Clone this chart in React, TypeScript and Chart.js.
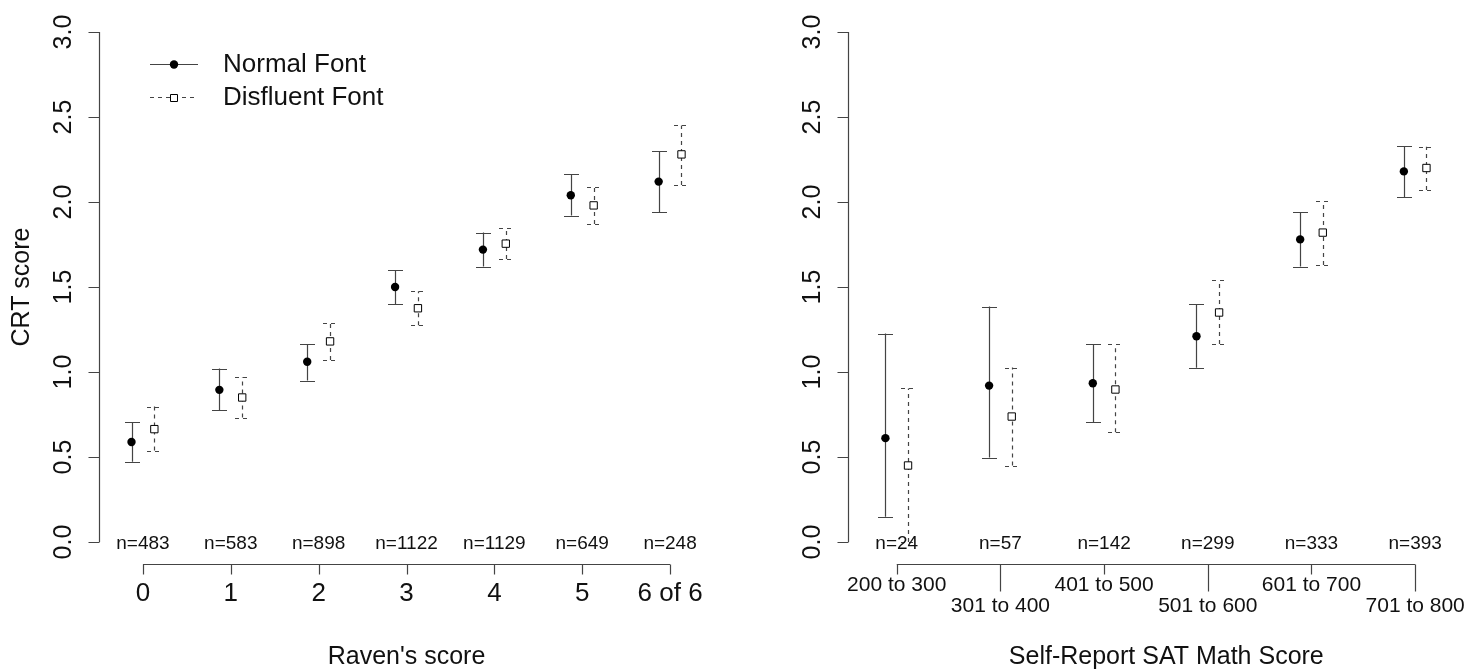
import React, { useEffect, useRef } from "react";
import { Chart, registerables } from "chart.js";
Chart.register(...registerables);

// ---------- data ----------
const ravenCategories = ["0", "1", "2", "3", "4", "5", "6 of 6"];
const ravenCounts = ["n=483", "n=583", "n=898", "n=1122", "n=1129", "n=649", "n=248"];
const ravenNormalMean = [0.588, 0.895, 1.06, 1.5, 1.72, 2.04, 2.12];
const ravenNormalLow = [0.472, 0.777, 0.95, 1.4, 1.62, 1.92, 1.94];
const ravenNormalHigh = [0.705, 1.02, 1.165, 1.6, 1.82, 2.165, 2.3];
const ravenDisfluentMean = [0.664, 0.85, 1.18, 1.375, 1.755, 1.98, 2.28];
const ravenDisfluentLow = [0.538, 0.732, 1.07, 1.275, 1.665, 1.87, 2.1];
const ravenDisfluentHigh = [0.797, 0.97, 1.29, 1.475, 1.845, 2.09, 2.45];

const satCategories = ["200 to 300", "301 to 400", "401 to 500", "501 to 600", "601 to 700", "701 to 800"];
const satCounts = ["n=24", "n=57", "n=142", "n=299", "n=333", "n=393"];
const satNormalMean = [0.611, 0.92, 0.934, 1.21, 1.78, 2.18];
const satNormalLow = [0.149, 0.497, 0.703, 1.025, 1.62, 2.03];
const satNormalHigh = [1.226, 1.385, 1.165, 1.4, 1.94, 2.33];
const satDisfluentMean = [0.45, 0.738, 0.897, 1.35, 1.82, 2.2];
const satDisfluentLow = [0.0, 0.45, 0.646, 1.165, 1.63, 2.07];
const satDisfluentHigh = [0.903, 1.026, 1.163, 1.54, 2.005, 2.325];

const yTickValues = [0, 0.5, 1, 1.5, 2, 2.5, 3];
const yTickLabels = ["0.0", "0.5", "1.0", "1.5", "2.0", "2.5", "3.0"];
const seriesLabels = ["Normal Font", "Disfluent Font"];
const ravenTitle = "Raven's score";
const satTitle = "Self-Report SAT Math Score";
const yTitle = "CRT score";

const FONT = '"Liberation Sans", Arial, Helvetica, sans-serif';
const LINE = "#444";
const TEXT = "#111";

type PanelCfg = {
  categories: string[];
  counts: string[];
  nMean: number[];
  nLow: number[];
  nHigh: number[];
  dMean: number[];
  dLow: number[];
  dHigh: number[];
  offset: number;
  xMin: number;
  xMax: number;
  padding: { left: number; right: number; top: number; bottom: number };
  xTitle: string;
  xTitleCenter: number; // in category units
  showYTitle: boolean;
  showLegend: boolean;
  staggered: boolean;
  tickFont: number;
};

function makePlugin(cfg: PanelCfg) {
  return {
    id: "rstyle",
    beforeDatasetsDraw(chart: any) {
      const ctx = chart.ctx;
      const xs = chart.scales.x;
      const ys = chart.scales.y;
      const cap = 7.5;
      const drawBar = (xv: number, lo: number, hi: number, dashed: boolean) => {
        const x = Math.round(xs.getPixelForValue(xv)) + 0.5;
        const y1 = ys.getPixelForValue(lo);
        const y2 = ys.getPixelForValue(hi);
        ctx.save();
        ctx.strokeStyle = LINE;
        ctx.lineWidth = 1.2;
        ctx.setLineDash(dashed ? [4, 4] : []);
        ctx.beginPath();
        ctx.moveTo(x, y1);
        ctx.lineTo(x, y2);
        ctx.moveTo(x - cap, Math.round(y1) + 0.5);
        ctx.lineTo(x + cap, Math.round(y1) + 0.5);
        ctx.moveTo(x - cap, Math.round(y2) + 0.5);
        ctx.lineTo(x + cap, Math.round(y2) + 0.5);
        ctx.stroke();
        ctx.restore();
      };
      cfg.categories.forEach((_, i) => {
        drawBar(i - cfg.offset, cfg.nLow[i], cfg.nHigh[i], false);
        drawBar(i + cfg.offset, cfg.dLow[i], cfg.dHigh[i], true);
      });
    },
    afterDraw(chart: any) {
      const ctx = chart.ctx;
      const xs = chart.scales.x;
      const ys = chart.scales.y;
      const area = chart.chartArea;
      ctx.save();
      ctx.strokeStyle = LINE;
      ctx.lineWidth = 1.2;
      ctx.fillStyle = TEXT;

      // y axis
      const ax = Math.round(area.left) + 0.5;
      ctx.beginPath();
      ctx.moveTo(ax, ys.getPixelForValue(yTickValues[0]));
      ctx.lineTo(ax, ys.getPixelForValue(yTickValues[yTickValues.length - 1]));
      yTickValues.forEach((v) => {
        const y = Math.round(ys.getPixelForValue(v)) + 0.5;
        ctx.moveTo(ax, y);
        ctx.lineTo(ax - 11, y);
      });
      ctx.stroke();
      ctx.font = `25px ${FONT}`;
      ctx.textAlign = "center";
      ctx.textBaseline = "middle";
      yTickValues.forEach((v, i) => {
        const y = ys.getPixelForValue(v);
        ctx.save();
        ctx.translate(area.left - 35, y);
        ctx.rotate(-Math.PI / 2);
        ctx.fillText(yTickLabels[i], 0, 0);
        ctx.restore();
      });
      if (cfg.showYTitle) {
        ctx.save();
        ctx.translate(22, (ys.getPixelForValue(0) + ys.getPixelForValue(3)) / 2);
        ctx.rotate(-Math.PI / 2);
        ctx.font = `25px ${FONT}`;
        ctx.fillText(yTitle, 0, 0);
        ctx.restore();
      }

      // x axis
      const base = ys.getPixelForValue(0);
      const axY = Math.round(base + 22) + 0.5;
      const n = cfg.categories.length;
      ctx.beginPath();
      ctx.moveTo(xs.getPixelForValue(0), axY);
      ctx.lineTo(xs.getPixelForValue(n - 1), axY);
      cfg.categories.forEach((_, i) => {
        const x = Math.round(xs.getPixelForValue(i)) + 0.5;
        const len = cfg.staggered && i % 2 === 1 ? 27 : 10;
        ctx.moveTo(x, axY);
        ctx.lineTo(x, axY + len);
      });
      ctx.stroke();

      ctx.font = `${cfg.tickFont}px ${FONT}`;
      cfg.categories.forEach((c, i) => {
        const x = xs.getPixelForValue(i);
        let y = axY + 29;
        if (cfg.staggered) y = i % 2 === 1 ? axY + 42 : axY + 21;
        ctx.fillText(c, x, y);
      });

      // n labels
      ctx.font = `19px ${FONT}`;
      cfg.counts.forEach((c, i) => {
        ctx.fillText(c, xs.getPixelForValue(i), base + 2);
      });

      // x title
      ctx.font = `25px ${FONT}`;
      ctx.fillText(cfg.xTitle, xs.getPixelForValue(cfg.xTitleCenter), base + 115);

      // legend
      if (cfg.showLegend) {
        const lx0 = area.left + 51;
        const lx1 = area.left + 99;
        const mx = (lx0 + lx1) / 2;
        const rows = [64.5, 97.5];
        rows.forEach((ry, k) => {
          ctx.save();
          ctx.strokeStyle = LINE;
          ctx.lineWidth = 1.2;
          ctx.setLineDash(k === 1 ? [4, 4] : []);
          ctx.beginPath();
          ctx.moveTo(lx0, ry);
          ctx.lineTo(lx1, ry);
          ctx.stroke();
          ctx.restore();
          const ds = chart.data.datasets[k];
          ctx.save();
          ctx.fillStyle = ds.backgroundColor;
          ctx.strokeStyle = ds.borderColor;
          ctx.lineWidth = ds.borderWidth || 0;
          ctx.beginPath();
          if (k === 0) {
            ctx.arc(mx, ry, ds.pointRadius, 0, Math.PI * 2);
            ctx.fill();
          } else {
            const s = ds.pointRadius * Math.SQRT1_2;
            ctx.rect(Math.round(mx - s) + 0.5, Math.round(ry - s) + 0.5, Math.round(2 * s), Math.round(2 * s));
            ctx.fill();
            ctx.stroke();
          }
          ctx.restore();
          ctx.save();
          ctx.fillStyle = TEXT;
          ctx.font = `26px ${FONT}`;
          ctx.textAlign = "left";
          ctx.textBaseline = "middle";
          ctx.fillText(seriesLabels[k], area.left + 124, ry);
          ctx.restore();
        });
      }
      ctx.restore();
    },
  };
}

function Panel({ cfg, width, height, left }: { cfg: PanelCfg; width: number; height: number; left: number }) {
  const ref = useRef<HTMLCanvasElement | null>(null);
  useEffect(() => {
    if (!ref.current) return;
    const chart = new Chart(ref.current, {
      type: "scatter",
      data: {
        datasets: [
          {
            label: seriesLabels[0],
            data: cfg.categories.map((_, i) => ({ x: i - cfg.offset, y: cfg.nMean[i] })),
            pointStyle: "circle",
            pointRadius: 4.2,
            backgroundColor: "#000",
            borderColor: "#000",
            borderWidth: 0,
          },
          {
            label: seriesLabels[1],
            data: cfg.categories.map((_, i) => ({ x: i + cfg.offset, y: cfg.dMean[i] })),
            pointStyle: "rect",
            pointRadius: 5.2,
            backgroundColor: "#fff",
            borderColor: "#000",
            borderWidth: 1,
          },
        ],
      } as any,
      options: {
        responsive: false,
        maintainAspectRatio: false,
        animation: false,
        events: [],
        layout: { padding: cfg.padding },
        plugins: { legend: { display: false }, tooltip: { enabled: false } },
        scales: {
          x: { type: "linear", min: cfg.xMin, max: cfg.xMax, display: false },
          y: { type: "linear", min: 0, max: 3, display: false },
        },
      },
      plugins: [makePlugin(cfg)],
    });
    return () => chart.destroy();
  }, [cfg]);
  return (
    <canvas
      ref={ref}
      width={width}
      height={height}
      style={{ position: "absolute", left, top: 0, width, height }}
    />
  );
}

const ravenCfg: PanelCfg = {
  categories: ravenCategories,
  counts: ravenCounts,
  nMean: ravenNormalMean,
  nLow: ravenNormalLow,
  nHigh: ravenNormalHigh,
  dMean: ravenDisfluentMean,
  dLow: ravenDisfluentLow,
  dHigh: ravenDisfluentHigh,
  offset: 0.13,
  xMin: -0.5,
  xMax: 6.5,
  padding: { left: 99, right: 26, top: 32, bottom: 129 },
  xTitle: ravenTitle,
  xTitleCenter: 3,
  showYTitle: true,
  showLegend: true,
  staggered: false,
  tickFont: 26,
};

const satCfg: PanelCfg = {
  categories: satCategories,
  counts: satCounts,
  nMean: satNormalMean,
  nLow: satNormalLow,
  nHigh: satNormalHigh,
  dMean: satDisfluentMean,
  dLow: satDisfluentLow,
  dHigh: satDisfluentHigh,
  offset: 0.109,
  xMin: -0.47,
  xMax: 5.5,
  padding: { left: 108, right: 14, top: 32, bottom: 129 },
  xTitle: satTitle,
  xTitleCenter: 2.6,
  showYTitle: false,
  showLegend: false,
  staggered: true,
  tickFont: 21,
};

export default function App() {
  return (
    <div style={{ position: "fixed", left: 0, top: 0, width: 1481, height: 671, background: "#fff", overflow: "hidden" }}>
      <Panel cfg={ravenCfg} width={740} height={671} left={0} />
      <Panel cfg={satCfg} width={741} height={671} left={740} />
    </div>
  );
}
